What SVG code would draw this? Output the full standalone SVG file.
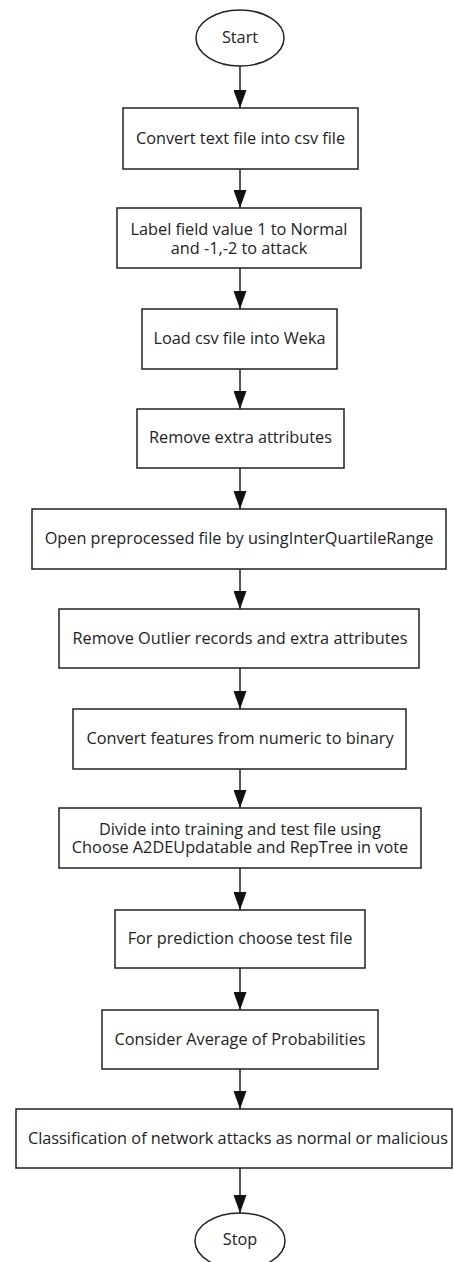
<svg xmlns="http://www.w3.org/2000/svg" width="454" height="1262" viewBox="0 0 454 1262">
<style>
.n{fill:#fff;stroke:#222;stroke-width:1.5}
.t{font-family:"Open Sans","DejaVu Sans",sans-serif;font-size:16.3px;fill:#222;text-anchor:middle;dominant-baseline:central}
.c{stroke:#222;stroke-width:1.5;fill:none;marker-end:url(#ah)}
</style>
<defs>
<marker id="ah" markerUnits="userSpaceOnUse" markerWidth="18" markerHeight="13" refX="18" refY="6.5" orient="auto" viewBox="0 0 18 13">
<path d="M0,0 L18,6.5 L0,13 Z" fill="#111"/>
</marker>
</defs>
<rect width="454" height="1262" fill="#fff"/>
<g id="connectors">
<line class="c" x1="240" y1="66" x2="240" y2="108"/>
<line class="c" x1="240" y1="169" x2="240" y2="208"/>
<line class="c" x1="240" y1="268" x2="240" y2="309"/>
<line class="c" x1="240" y1="369" x2="240" y2="409"/>
<line class="c" x1="240" y1="468" x2="240" y2="509"/>
<line class="c" x1="240" y1="569" x2="240" y2="609"/>
<line class="c" x1="240" y1="668" x2="240" y2="709"/>
<line class="c" x1="240" y1="769" x2="240" y2="808"/>
<line class="c" x1="240" y1="868" x2="240" y2="910"/>
<line class="c" x1="240" y1="968" x2="240" y2="1010"/>
<line class="c" x1="240" y1="1069" x2="240" y2="1109"/>
<line class="c" x1="240" y1="1168" x2="240" y2="1213"/>
</g>
<g id="start"><ellipse class="n" cx="240" cy="38" rx="44" ry="28"/><text class="t" x="240" y="37">Start</text></g>
<g id="n1"><rect class="n" x="123" y="108" width="235" height="61"/><text class="t" x="240.5" y="138">Convert text file into csv file</text></g>
<g id="n2"><rect class="n" x="117" y="208" width="244" height="60"/><text class="t" x="239" y="229"><tspan x="239" y="229">Label field value 1 to Normal</tspan><tspan x="239" y="247.5">and -1,-2 to attack</tspan></text></g>
<g id="n3"><rect class="n" x="142" y="309" width="195" height="60"/><text class="t" x="239.5" y="338">Load csv file into Weka</text></g>
<g id="n4"><rect class="n" x="137" y="409" width="207" height="59"/><text class="t" x="240.5" y="437">Remove extra attributes</text></g>
<g id="n5"><rect class="n" x="32" y="509" width="414" height="60"/><text class="t" x="239" y="538">Open preprocessed file by usingInterQuartileRange</text></g>
<g id="n6"><rect class="n" x="59" y="609" width="360" height="59"/><text class="t" x="240" y="638">Remove Outlier records and extra attributes</text></g>
<g id="n7"><rect class="n" x="73" y="709" width="333" height="60"/><text class="t" x="240" y="738">Convert features from numeric to binary</text></g>
<g id="n8"><rect class="n" x="59" y="808" width="362" height="60"/><text class="t" x="240" y="828.5"><tspan x="240" y="828.5">Divide into training and test file using</tspan><tspan x="240" y="847">Choose A2DEUpdatable and RepTree in vote</tspan></text></g>
<g id="n9"><rect class="n" x="115" y="910" width="250" height="58"/><text class="t" x="240" y="938">For prediction choose test file</text></g>
<g id="n10"><rect class="n" x="102" y="1010" width="276" height="59"/><text class="t" x="240" y="1039">Consider Average of Probabilities</text></g>
<g id="n11"><rect class="n" x="16" y="1109" width="436" height="59"/><text class="t" x="238" y="1138">Classification of network attacks as normal or malicious</text></g>
<g id="stop"><ellipse class="n" cx="240" cy="1241" rx="45" ry="28"/><text class="t" x="240" y="1239">Stop</text></g>
</svg>
